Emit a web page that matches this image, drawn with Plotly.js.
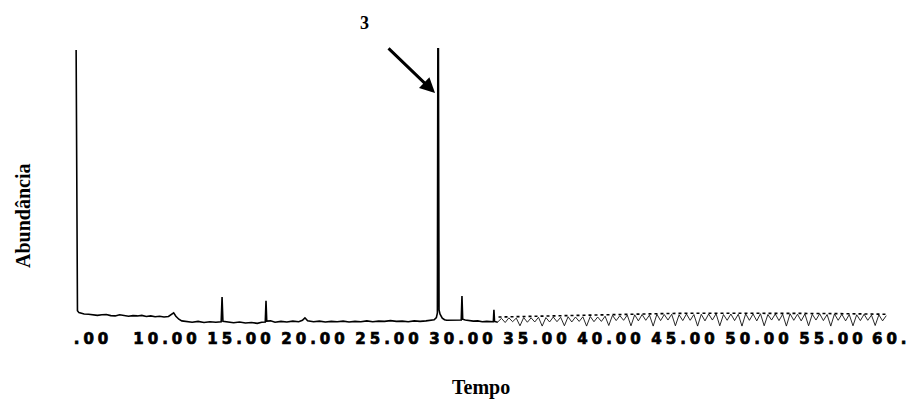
<!DOCTYPE html>
<html>
<head>
<meta charset="utf-8">
<script src="https://cdn.plot.ly/plotly-3.0.1.min.js"></script>
<style>
  html, body { margin: 0; padding: 0; background: #fff; overflow: hidden; }
  #chart { width: 911px; height: 404px; }
  #chart .xtick text { letter-spacing: 4px; stroke: #000; stroke-width: 0.7px; }
  #chart .annotation[data-index="0"] text { letter-spacing: 4px; stroke: #000; stroke-width: 0.7px; }
</style>
</head>
<body>
<div id="chart"></div>
<script>
// Main trace: retention time (min) and abundance (relative, %)
const time = [3.86, 3.9, 3.95, 4.05, 4.2, 4.4, 4.7, 5.0, 5.3, 5.6, 5.9, 6.2, 6.5, 6.8, 7.1, 7.4, 7.7, 8.0, 8.3, 8.6, 8.9, 9.2, 9.5, 9.8, 10.1, 10.3, 10.45, 10.6, 10.8, 11.0,
  11.3, 11.7, 12.1, 12.5, 12.9, 13.3, 13.66, 13.72, 13.78, 14.1, 14.5, 14.9, 15.3, 15.7, 16.1, 16.4, 16.64, 16.69, 16.74, 17.0, 17.3, 17.7, 18.1, 18.5, 18.9, 19.15, 19.32, 19.5, 19.9,
  20.3, 20.7, 21.1, 21.5, 21.9, 22.3, 22.7, 23.1, 23.5, 23.9, 24.3, 24.7, 25.1, 25.5, 25.9, 26.3, 26.7, 27.1, 27.5, 27.8, 28.05, 28.2, 28.27, 28.3, 28.34, 28.38, 28.45, 28.6, 28.75, 28.9,
  29.2, 29.5, 29.7, 29.88, 29.93, 29.98, 30.15, 30.4, 30.7, 31.0, 31.3, 31.6, 31.9, 32.05, 32.09, 32.13, 32.35];
const abundance = [99.3, 7.0, 4.3, 3.6, 3.4, 3.1, 3.0, 2.9, 2.6, 2.8, 2.9, 2.5, 2.4, 2.8, 2.6, 2.3, 2.5, 2.4, 2.6, 2.2, 2.4, 2.1, 2.3, 2.0, 2.2, 2.8, 3.5, 2.3, 1.2, 0.6,
  0.3, 0.1, 0.4, 0.0, 0.3, 0.1, 0.3, 9.3, 0.4, 0.2, -0.1, 0.2, -0.2, 0.0, -0.3, 0.1, 0.2, 7.9, 0.5, 0.6, 0.1, 0.4, 0.2, 0.5, 0.3, 0.8, 1.7, 0.6, 0.3,
  0.5, 0.2, 0.4, 0.3, 0.5, 0.2, 0.4, 0.3, 0.6, 0.3, 0.5, 0.4, 0.7, 0.4, 0.5, 0.3, 0.6, 0.4, 0.6, 0.7, 1.0, 1.8, 3.5, 100, 100, 4.6, 3.0, 1.6, 1.0, 0.8,
  0.8, 0.9, 0.7, 0.9, 9.65, 1.2, 0.9, 0.7, 0.5, 0.6, 0.3, 0.4, 0.2, 0.3, 4.6, 0.4, 0.1];

// Noisy tail of the chromatogram (dense noise band)
const tailTime = [32.35, 32.6, 32.85, 33.1, 33.35, 33.6, 33.85, 34.1, 34.35, 34.6, 34.85, 35.1, 35.35, 35.6, 35.85, 36.1, 36.35, 36.6, 36.85, 37.1, 37.35, 37.6, 37.85, 38.1, 38.35, 38.6, 38.85, 39.1, 39.35, 39.6, 39.85,
  40.1, 40.35, 40.6, 40.85, 41.1, 41.35, 41.6, 41.85, 42.1, 42.35, 42.6, 42.85, 43.1, 43.35, 43.6, 43.85, 44.1, 44.35, 44.6, 44.85, 45.1, 45.35, 45.6, 45.85, 46.1, 46.35, 46.6, 46.85, 47.1, 47.35, 47.6, 47.85,
  48.1, 48.35, 48.6, 48.85, 49.1, 49.35, 49.6, 49.85, 50.1, 50.35, 50.6, 50.85, 51.1, 51.35, 51.6, 51.85, 52.1, 52.35, 52.6, 52.85, 53.1, 53.35, 53.6, 53.85, 54.1, 54.35, 54.6, 54.85,
  55.1, 55.35, 55.6, 55.85, 56.1, 56.35, 56.6, 56.85, 57.1, 57.35, 57.6, 57.85, 58.1, 58.35, 58.6];
const tailAbundance = [0.2, 1.5, 0.0, 1.7, 0.3, 1.6, -1.2, 1.8, 0.1, 1.7, 0.2, 1.9, -1.3, 1.8, 0.2, 2.0, 0.3, 1.9, -1.2, 2.1, 0.2, 2.0, 0.4, 2.1, -1.3, 2.2, 0.3, 2.0, 0.4, 2.3, -1.1,
  2.6, 0.7, 2.5, 0.8, 2.7, -1.2, 2.8, 0.6, 2.9, 0.8, 2.7, -1.3, 3.0, 0.7, 2.9, 0.9, 3.0, -1.2, 2.8, 0.7, 3.1, 0.8, 2.9, -1.3, 3.0, 0.6, 3.1, 0.9, 3.2, -1.2, 2.9, 0.8,
  3.1, 0.7, 3.0, -1.3, 3.2, 0.8, 3.1, 0.6, 3.2, -1.2, 2.9, 0.9, 3.1, 0.7, 3.0, -1.3, 3.2, 0.8, 3.0, 0.6, 3.1, -1.2, 3.0, 0.9, 3.2, 0.7, 2.9, -1.3,
  3.1, 0.8, 3.0, 0.6, 2.9, -1.2, 2.8, 0.7, 3.0, 0.8, 2.7, -1.1, 2.8, 0.6, 2.5];

// Upper edge of the noise band (dotted)
const tailUpperTime = [32.4, 34.0, 36.0, 38.0, 40.0, 42.0, 44.0, 46.0, 48.0, 50.0, 52.0, 54.0, 56.0, 58.6];
const tailUpperAbundance = [2.0, 2.2, 2.3, 2.5, 2.9, 3.2, 3.3, 3.4, 3.4, 3.5, 3.4, 3.3, 3.2, 3.0];

// Axis ticks (the last label, truncated "60." in the original, sits at the page edge)
const tickValues = [5, 10, 15, 20, 25, 30, 35, 40, 45, 50, 55, 60];
const tickLabels = ['.00', '10.00', '15.00', '20.00', '25.00', '30.00', '35.00', '40.00', '45.00', '50.00', '55.00', ''];
const edgeTickValue = 60;
const edgeTickLabel = '60.';

// Labelled peak
const peakLabel = '3';
const peakArrowTime = 28.11;
const peakArrowAbundance = 83.6;

const traces = [
  { x: time, y: abundance, type: 'scatter', mode: 'lines', line: { color: '#000', width: 1.6 }, hoverinfo: 'skip', showlegend: false },
  { x: tailTime, y: tailAbundance, type: 'scatter', mode: 'lines', line: { color: '#111', width: 0.9 }, hoverinfo: 'skip', showlegend: false },
  { x: tailUpperTime, y: tailUpperAbundance, type: 'scatter', mode: 'lines', line: { color: '#000', width: 1.6, dash: 'dot' }, hoverinfo: 'skip', showlegend: false }
];

const serif = 'Liberation Serif, Times New Roman, serif';
const tickFont = { family: 'DejaVu Sans, sans-serif', size: 15, weight: 'bold', color: '#000' };

const layout = {
  width: 911, height: 404,
  margin: { l: 70, r: 0, t: 48, b: 76 },
  paper_bgcolor: '#fff', plot_bgcolor: '#fff',
  showlegend: false,
  xaxis: {
    range: [3.446, 60.27], showgrid: false, zeroline: false, showline: false,
    ticks: '', tickmode: 'array', tickvals: tickValues, ticktext: tickLabels,
    tickfont: tickFont,
    ticklabelstandoff: 0, ticklabeloverflow: 'allow'
  },
  yaxis: {
    range: [-2, 100], showgrid: false, zeroline: false, showline: false,
    showticklabels: false, ticks: ''
  },
  annotations: [
    { xref: 'x', yref: 'paper', x: edgeTickValue, y: -0.04, text: edgeTickLabel, showarrow: false,
      xanchor: 'right', yanchor: 'middle', xshift: 0, font: tickFont },
    { xref: 'paper', yref: 'paper', x: 0.4887, y: -0.214, text: 'Tempo', showarrow: false,
      xanchor: 'center', yanchor: 'middle', font: { family: serif, size: 20, weight: 'bold', color: '#000' } },
    { xref: 'paper', yref: 'paper', x: -0.0559, y: 0.4036, text: 'Abundância', showarrow: false, textangle: -90,
      xanchor: 'center', yanchor: 'middle', font: { family: serif, size: 20, weight: 'bold', color: '#000' } },
    { xref: 'paper', yref: 'paper', x: 0.3496, y: 1.089, text: peakLabel, showarrow: false,
      xanchor: 'center', yanchor: 'middle', font: { family: serif, size: 18, weight: 'bold', color: '#000' } },
    { xref: 'x', yref: 'y', x: peakArrowTime, y: peakArrowAbundance, text: '', showarrow: true,
      ax: -48, ay: -46, arrowhead: 2, arrowsize: 1, arrowwidth: 3, arrowcolor: '#000', standoff: 0 }
  ]
};

Plotly.newPlot('chart', traces, layout, { staticPlot: true, displayModeBar: false });
</script>
</body>
</html>
